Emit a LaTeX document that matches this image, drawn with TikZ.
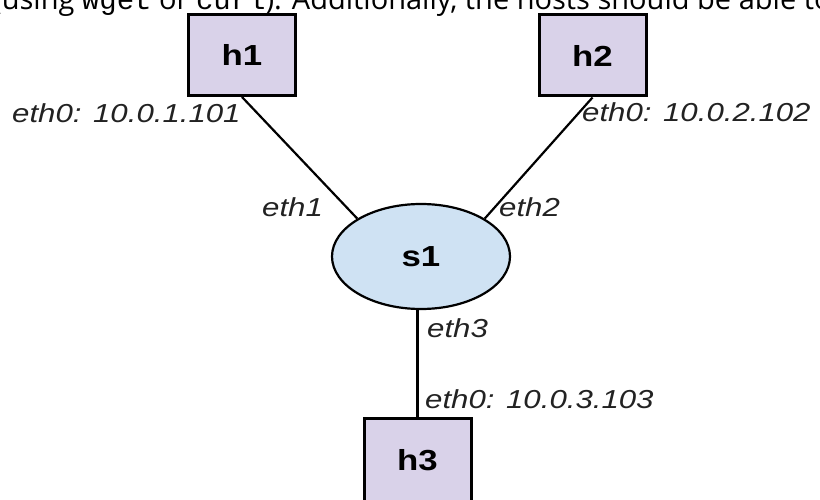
\documentclass[tikz,border=0pt]{standalone}
\usepackage{fontspec}
\usepackage{graphicx}
\setmainfont{Liberation Sans}
\newfontfamily\topfont{Open Sans}
\newfontfamily\codefont{Liberation Mono}
\usetikzlibrary{shapes.geometric}
\definecolor{hostfill}{HTML}{D9D2E9}
\definecolor{switchfill}{HTML}{CFE2F3}
\definecolor{labeltext}{HTML}{222222}
\newcommand{\sx}[1]{\scalebox{1.2}[1]{#1}}
\begin{document}
\begin{tikzpicture}[x=1pt,y=-1pt,
  host/.style={draw=black, line width=3pt, fill=hostfill, minimum width=107pt,
    minimum height=81pt, inner sep=0pt, font=\fontsize{29}{29}\selectfont\bfseries},
  switch/.style={ellipse, draw=black, line width=2.2pt, fill=switchfill,
    minimum width=178pt, minimum height=105pt, inner sep=0pt,
    font=\fontsize{29}{29}\selectfont\bfseries},
  lbl/.style={inner sep=0pt, anchor=base west, text=labeltext,
    font=\fontsize{26}{26}\selectfont\itshape},
  conn/.style={draw=black, line width=2.2pt},
  toptext/.style={inner sep=0pt, anchor=base west, text=black,
    font=\topfont\fontsize{29}{29}\selectfont}]
\useasboundingbox (0,0) rectangle (820,500);
\clip (0,0) rectangle (820,500);
\fill[white] (0,0) rectangle (820,500);

\node[toptext] (top) at (-7,9.5) {(using {\codefont wget} or {\codefont curl}). Additionally, the hosts should be able to};

\node[host] (h1) at (242,55) {\sx{h1}};
\node[host] (h2) at (592.5,55.5) {\sx{h2}};
\node[switch] (s1) at (421,256.5) {\sx{s1}};
\node[host, minimum height=83pt] (h3) at (417.5,460) {\sx{h3}};

\draw[conn] (h1.south) -- (s1.north west);
\draw[conn] (h2.south) -- (s1.north east);
\draw[conn] (h3.north) -- (h3.north |- s1.south);

\node[lbl] (l1) at (12,123) {\sx{eth0: 10.0.1.101}};
\node[lbl] (l2) at (582,122) {\sx{eth0: 10.0.2.102}};
\node[lbl] (e1) at (262,217) {\sx{eth1}};
\node[lbl] (e2) at (499,217) {\sx{eth2}};
\node[lbl] (e3) at (427,337) {\sx{eth3}};
\node[lbl] (l3) at (425,408) {\sx{eth0: 10.0.3.103}};
\end{tikzpicture}
\end{document}
